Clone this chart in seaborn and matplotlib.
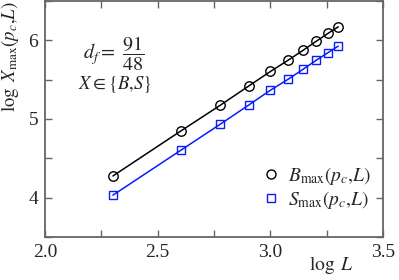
import numpy as np
import seaborn as sns
import matplotlib.pyplot as plt
from matplotlib.lines import Line2D
from matplotlib.ticker import MultipleLocator

# data (log10 of L, log10 of cluster sizes)
logL = [2.301, 2.602, 2.778, 2.903, 3.000, 3.079, 3.146, 3.204, 3.255, 3.301]
logB = [4.274, 4.845, 5.174, 5.416, 5.602, 5.746, 5.873, 5.987, 6.085, 6.169]
logS = [4.030, 4.600, 4.933, 5.174, 5.364, 5.504, 5.632, 5.746, 5.840, 5.924]

sns.set_style("ticks")
plt.rcParams['font.family'] = ['Liberation Serif', 'DejaVu Serif']
plt.rcParams['mathtext.fontset'] = 'stix'

fig = plt.figure(figsize=(3.99, 2.80), dpi=100)
ax = fig.add_axes([0.113, 0.154, 0.847, 0.843])

sns.lineplot(x=logL, y=logB, ax=ax, color='black', lw=1.1, marker='o',
             markersize=6.8, markerfacecolor='none', markeredgecolor='black',
             markeredgewidth=1.0)
sns.lineplot(x=logL, y=logS, ax=ax, color='#0a1aff', lw=1.1, marker='s',
             markersize=6.0, markerfacecolor='none', markeredgecolor='#0a1aff',
             markeredgewidth=1.0)

ax.set_xlim(2.0, 3.5)
ax.set_ylim(3.5, 6.5)
ax.xaxis.set_minor_locator(MultipleLocator(0.25))
ax.yaxis.set_major_locator(MultipleLocator(1))
ax.yaxis.set_minor_locator(MultipleLocator(0.5))
ax.set_xticks([2.0, 2.5, 3.0, 3.5])
ax.set_xticklabels(['2.0', '2.5', '3.0', '3.5'])
ax.set_yticks([4, 5, 6])
ax.set_yticklabels(['4', '5', '6'])
ax.tick_params(which='both', direction='in', top=True, right=True,
               color='#666666', labelsize=14, pad=5)
ax.tick_params(which='major', length=5, width=1.0)
ax.tick_params(which='minor', length=5, width=1.0)
for sp in ax.spines.values():
    sp.set_color('#666666')
    sp.set_linewidth(1.3)

ax.set_xlabel(r'$\log\ L$', fontsize=14)
ax.xaxis.set_label_coords(0.846, -0.072)
ax.set_ylabel(r'$\log\ X_{\rm max}(p_c{,}L)$', fontsize=13.5)
ax.yaxis.set_label_coords(-0.07, 0.765)

ax.text(0.112, 0.775, r'$d_f=\ \dfrac{91}{48}$', transform=ax.transAxes,
        fontsize=14.5, va='center', ha='left')
ax.text(0.098, 0.645, r'$X\in\{B{,}S\}$', transform=ax.transAxes,
        fontsize=13.5, va='center', ha='left')

handles = [
    Line2D([], [], ls='none', marker='o', ms=6.5, mfc='none', mec='black', mew=1.0),
    Line2D([], [], ls='none', marker='s', ms=5.8, mfc='none', mec='#0a1aff', mew=1.0),
]
ax.legend(handles, [r'$B_{\rm max}(p_c{,}L)$', r'$S_{\rm max}(p_c{,}L)$'],
          loc='lower right', bbox_to_anchor=(1.0, 0.06), frameon=False,
          fontsize=14, handlelength=0.8, handletextpad=0.5, labelspacing=0.1,
          borderaxespad=0.2)

fig.savefig('out.png', dpi=100)
